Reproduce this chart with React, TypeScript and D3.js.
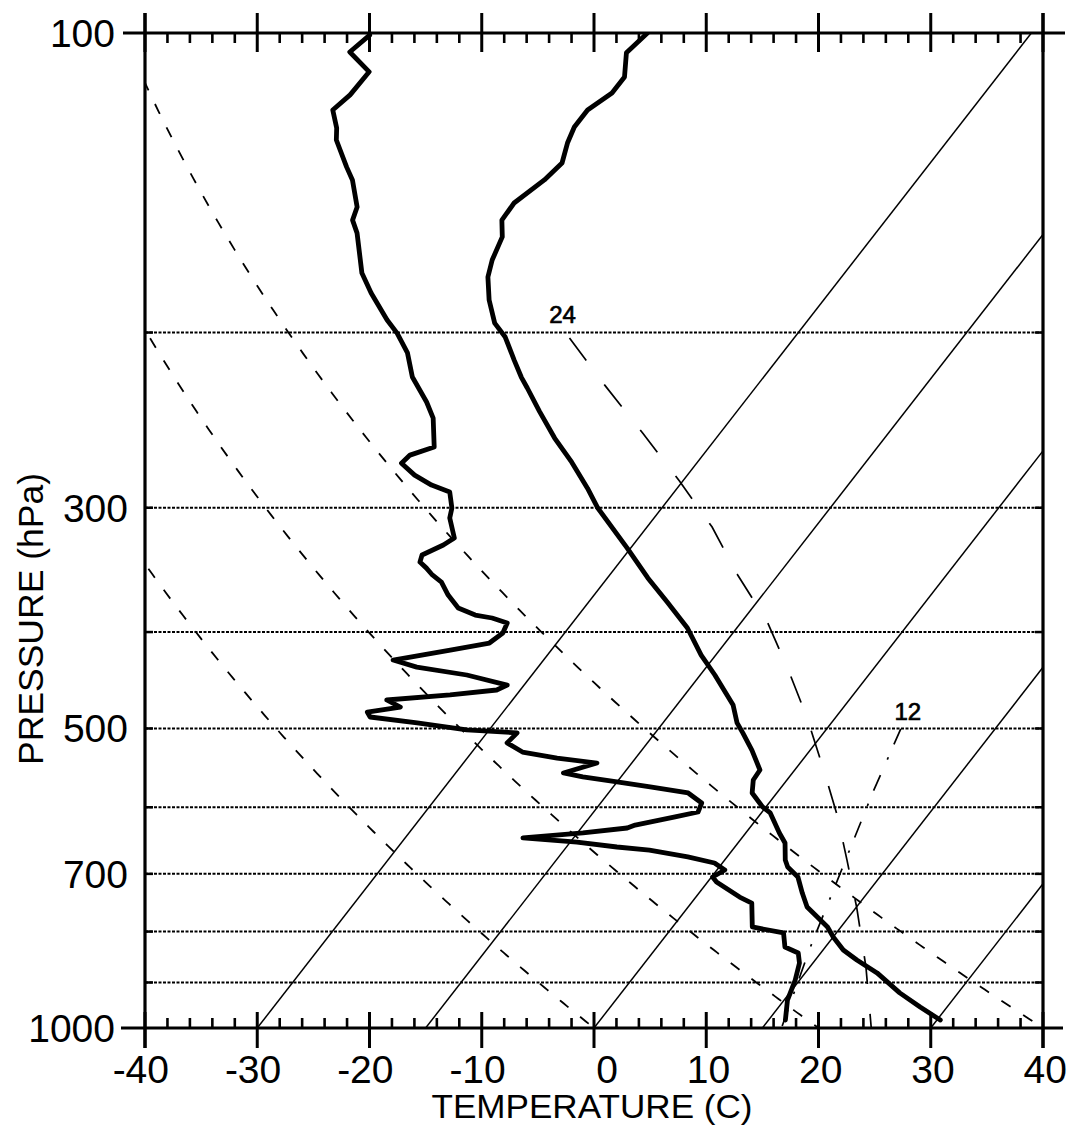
import React from 'react';
import * as d3 from 'd3';

const W = 1070;
const H = 1131;

const T_TICKS = [-40, -30, -20, -10, 0, 10, 20, 30, 40];
const P_LABELS = [100, 300, 500, 700, 1000];
const P_GRID = [200, 300, 400, 500, 600, 700, 800, 900];
const ISOTHERMS = [-30, -15, 0, 15, 30];
const DRY_THETA = [0, 20, 40];

// Environmental temperature sounding (hPa, °C)
const TEMP_P = [100, 104.7, 110.7, 114.9, 119.5, 124.3, 129, 135.1, 140.5, 148.2, 154.2, 160.3, 169.1, 175.9, 185.5, 195.7, 202.1, 213.2, 221.7, 227.4, 240, 255.3, 270, 286.7, 300.2, 329.4, 352.9, 373.2, 396.3, 421.9, 441.8, 473.5, 493.6, 505.1, 525.6, 550.4, 563.3, 580.5, 599.6, 608, 636.8, 651.8, 678, 689, 705.1, 731.7, 755.8, 773.4, 791.5, 810, 834.8, 854.3, 880.3, 921.9, 952.6, 981.8];
const TEMP_T = [-64.2, -64.7, -63.2, -63.2, -64.2, -64.2, -63.7, -62.8, -63.2, -64.3, -64.2, -63.0, -62.3, -61.5, -59.8, -57.7, -55.8, -53.4, -51.6, -50.3, -47.6, -44.4, -41.2, -38.0, -35.7, -30.3, -26.4, -23.0, -19.4, -16.3, -13.7, -10.0, -8.4, -7.2, -5.2, -3.1, -3.0, -2.2, -0.3, 0.8, 3.0, 4.2, 5.4, 6.1, 7.7, 9.2, 10.6, 12.2, 13.8, 15.0, 16.8, 18.7, 21.4, 24.8, 27.6, 30.3];

// Dew point sounding (hPa, °C)
const DEW_P = [100.5, 104.5, 109.4, 115.4, 119.5, 124.6, 128.1, 136.4, 140.5, 149.6, 154.2, 158.9, 174.3, 182.5, 194.3, 200.3, 209.7, 221.7, 234.9, 243.8, 260.7, 265.6, 270.6, 278.2, 284.7, 289.3, 300.2, 307.2, 321.8, 327, 334.7, 340.2, 345, 350.5, 356.3, 367.2, 378.4, 384.6, 387.2, 391.7, 400.9, 410.3, 417, 426.8, 433.8, 441.8, 452.2, 457.4, 462.7, 468.1, 475.8, 481.3, 486.9, 493.6, 501.7, 505.1, 517, 528, 535.4, 541.6, 554.2, 559.3, 565.9, 572.5, 580.5, 594.1, 606.6, 613.6, 625.2, 629.5, 636.8, 644.2, 650.3, 657.8, 662.4, 673.1, 682.6, 693.7, 705.1, 713.4, 738.6, 749, 791.5, 802.6, 829.2, 840.7, 860.4, 894.9, 937.4, 981.8];
const DEW_T = [-88.8, -89.4, -86.3, -86.4, -86.9, -85.3, -84.5, -81.7, -80.3, -78.0, -77.5, -76.2, -73.0, -70.8, -67.5, -65.7, -63.4, -61.3, -58.3, -56.6, -54.5, -56.1, -56.3, -54.3, -52.1, -50.0, -48.7, -48.2, -46.4, -46.9, -48.1, -47.8, -46.8, -45.8, -44.5, -43.0, -41.2, -39.2, -37.5, -35.8, -35.5, -36.0, -39.0, -43.4, -40.8, -35.8, -31.5, -32.1, -35.9, -41.2, -39.5, -42.1, -41.5, -36.9, -32.0, -27.3, -27.5, -25.5, -22.0, -18.1, -20.4, -18.4, -15.0, -11.7, -7.9, -6.0, -5.7, -7.4, -10.4, -10.9, -14.5, -19.5, -14.4, -10.5, -7.4, -3.5, -0.7, 0.7, 0.1, 0.8, 3.9, 5.4, 7.1, 10.3, 11.4, 13.0, 13.8, 14.6, 15.3, 16.5];

// Saturated adiabat labelled 24 (hPa, °C)
const MOIST_P = [202.6, 225.9, 252.4, 282, 313.7, 350.5, 390.8, 436.7, 488, 546.7, 610.9, 678, 757.6, 868.4, 1000];
const MOIST_T = [-50.0, -43.6, -36.9, -30.3, -24.2, -18.6, -12.7, -7.5, -2.5, 2.3, 6.9, 10.9, 15.1, 20.0, 24.7];
const MOIST_LABEL = '24';

// Mixing-ratio line labelled 12 (hPa, °C)
const MIX_P = [500.5, 579.2, 693.7, 831.1, 1000];
const MIX_T = [6.6, 8.5, 11.1, 13.7, 16.7];
const MIX_LABEL = '12';

const FONT = "'Liberation Sans', Arial, Helvetica, sans-serif";

export default function App() {
  const x = d3.scaleLinear().domain([-40, 40]).range([145, 1043]);
  const y = d3.scaleLog().domain([100, 1000]).range([33, 1028]);
  const SKEW = 0.778;
  const sx = (T: number, p: number) => x(T) + SKEW * (y(1000) - y(p));

  const line = d3
    .line<[number, number]>()
    .x((d) => sx(d[1], d[0]))
    .y((d) => y(d[0]));

  const left = x(-40);
  const right = x(40);
  const top = y(100);
  const bottom = y(1000);

  const zip = (ps: number[], ts: number[]) => ps.map((p, i) => [p, ts[i]] as [number, number]);

  const pFine = d3.range(100, 1000.1, 5);
  const dryLines = DRY_THETA.map((th) =>
    pFine.map((p) => [p, (th + 273.15) * Math.pow(p / 1000, 0.2857) - 273.15] as [number, number])
  );

  const minorTicks = d3.range(-40, 40.1, 2).filter((t) => Math.abs(t % 10) > 0.01);

  const tempPath = line(zip(TEMP_P, TEMP_T));
  const dewPath = line(zip(DEW_P, DEW_T));
  const moistData = zip(MOIST_P, MOIST_T);
  const mixData = zip(MIX_P, MIX_T);

  return (
    <svg
      width={W}
      height={H}
      viewBox={`0 0 ${W} ${H}`}
      style={{ position: 'absolute', left: 0, top: 0, background: '#fff' }}
    >
      <rect x={0} y={0} width={W} height={H} fill="#fff" />
      <defs>
        <clipPath id="plot">
          <rect x={left} y={top} width={right - left} height={bottom - top} />
        </clipPath>
      </defs>

      {/* horizontal pressure grid */}
      {P_GRID.map((p) => (
        <g key={'g' + p}>
          <line x1={left} x2={right} y1={y(p)} y2={y(p)} stroke="#000" strokeWidth={2} strokeDasharray="3 1.5" />
          <line x1={left} x2={left + 8} y1={y(p)} y2={y(p)} stroke="#000" strokeWidth={2.5} />
          <line x1={right - 8} x2={right} y1={y(p)} y2={y(p)} stroke="#000" strokeWidth={2.5} />
        </g>
      ))}

      <g clipPath="url(#plot)">
        {/* isotherms */}
        {ISOTHERMS.map((T) => (
          <path key={'iso' + T} d={line([[1000, T], [100, T]]) || ''} fill="none" stroke="#000" strokeWidth={1.5} />
        ))}
        {/* dry adiabats */}
        {dryLines.map((d, i) => (
          <path key={'dry' + i} d={line(d) || ''} fill="none" stroke="#000" strokeWidth={1.8} strokeDasharray="11 15" />
        ))}
        {/* saturated adiabat */}
        <path d={line(moistData) || ''} fill="none" stroke="#000" strokeWidth={1.7} strokeDasharray="28 30" />
        {/* mixing ratio line */}
        <path d={line(mixData) || ''} fill="none" stroke="#000" strokeWidth={1.7} strokeDasharray="17 14 2.5 17" />

        {/* soundings */}
        <path d={dewPath || ''} fill="none" stroke="#000" strokeWidth={4.8} strokeLinejoin="round" strokeLinecap="round" />
        <path d={tempPath || ''} fill="none" stroke="#000" strokeWidth={4.8} strokeLinejoin="round" strokeLinecap="round" />
      </g>

      {/* line labels */}
      <text x={sx(MOIST_T[0], MOIST_P[0]) - 7} y={y(MOIST_P[0]) - 15} fontFamily={FONT} fontSize={24} textAnchor="middle" stroke="#000" strokeWidth={0.7}>
        {MOIST_LABEL}
      </text>
      <text x={sx(MIX_T[0], MIX_P[0]) + 7} y={y(MIX_P[0]) - 9} fontFamily={FONT} fontSize={24} textAnchor="middle" stroke="#000" strokeWidth={0.7}>
        {MIX_LABEL}
      </text>

      {/* frame */}
      <line x1={left - 22} x2={right + 22} y1={top} y2={top} stroke="#000" strokeWidth={3.2} />
      <line x1={left - 24} x2={right + 20} y1={bottom} y2={bottom} stroke="#000" strokeWidth={3.2} />
      <line x1={left} x2={left} y1={top - 20} y2={bottom + 20} stroke="#000" strokeWidth={3.2} />
      <line x1={right} x2={right} y1={top - 20} y2={bottom + 20} stroke="#000" strokeWidth={3.2} />

      {/* temperature ticks top and bottom */}
      {T_TICKS.map((t) => (
        <g key={'tt' + t}>
          <line x1={x(t)} x2={x(t)} y1={top - 20} y2={top + 19} stroke="#000" strokeWidth={3} />
          <line x1={x(t)} x2={x(t)} y1={bottom - 16} y2={bottom + 20} stroke="#000" strokeWidth={3} />
          <text x={x(t) + 24} y={bottom + 55} fontFamily={FONT} fontSize={39} textAnchor="end">
            {t}
          </text>
        </g>
      ))}
      {minorTicks.map((t) => (
        <g key={'mt' + t}>
          <line x1={x(t)} x2={x(t)} y1={top} y2={top + 10} stroke="#000" strokeWidth={2.6} />
          <line x1={x(t)} x2={x(t)} y1={bottom - 10} y2={bottom} stroke="#000" strokeWidth={2.6} />
        </g>
      ))}

      {/* pressure labels */}
      {P_LABELS.map((p) => {
        const ticked = p === 100 || p === 1000;
        return (
          <text
            key={'pl' + p}
            x={left - (ticked ? 30 : 17)}
            y={y(p) + 14}
            fontFamily={FONT}
            fontSize={39}
            textAnchor="end"
          >
            {p}
          </text>
        );
      })}

      {/* axis titles */}
      <text x={592} y={1118} fontFamily={FONT} fontSize={33} textAnchor="middle" textLength={321} lengthAdjust="spacingAndGlyphs">
        TEMPERATURE (C)
      </text>
      <text
        transform={`translate(43, 619) rotate(-90)`}
        fontFamily={FONT}
        fontSize={35}
        textAnchor="middle"
        textLength={292}
        lengthAdjust="spacingAndGlyphs"
      >
        PRESSURE (hPa)
      </text>
    </svg>
  );
}
